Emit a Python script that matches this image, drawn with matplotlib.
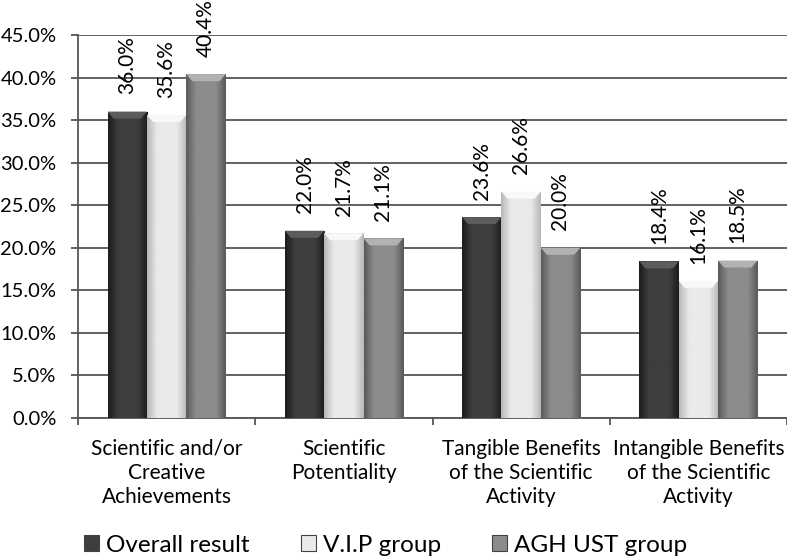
import numpy as np
import matplotlib.pyplot as plt
from matplotlib.patches import Polygon
from matplotlib.ticker import FuncFormatter
from matplotlib.colors import LinearSegmentedColormap

plt.rcParams['font.family'] = ['Lato', 'DejaVu Sans']

categories = ['Scientific and/or\nCreative\nAchievements', 'Scientific\nPotentiality',
              'Tangible Benefits\nof the Scientific\nActivity', 'Intangible Benefits\nof the Scientific\nActivity']
series = ['Overall result', 'V.I.P group', 'AGH UST group']
overall = [36.0, 22.0, 23.6, 18.4]
vip = [35.6, 21.7, 26.6, 16.1]
agh = [40.4, 21.1, 20.0, 18.5]
# (edge, centre, top bevel)
shades = [('#1c1c1c', '#3e3e3e', '#5c5c5c'),
          ('#b8b8b8', '#eaeaea', '#f8f8f8'),
          ('#5a5a5a', '#8c8c8c', '#b2b2b2')]

fig = plt.figure(figsize=(7.87, 5.6), dpi=100)
ax = fig.add_axes([78 / 787, 1 - 418 / 560, (787 - 78) / 787, (418 - 35) / 560])
ax.set_xlim(-0.5, 3.5)
ax.set_ylim(0, 45)

# bevel size in data units (~7 px)
bx = 6 / 709 * 4.0
by = 7 / 383 * 45.0

x = np.arange(len(categories))
w = 0.222
for i, (vals, sh) in enumerate(zip([overall, vip, agh], shades)):
    pos = x + (i - 1) * w
    cmap = LinearSegmentedColormap.from_list('b%d' % i, [sh[0], sh[1], sh[1], sh[1], sh[0]])
    bars = ax.bar(pos, vals, w, color=sh[1], edgecolor='none', label=series[i], zorder=3)
    for b, p, v in zip(bars, pos, vals):
        x0, x1 = p - w / 2, p + w / 2
        im = ax.imshow(np.linspace(0, 1, 64).reshape(1, -1), cmap=cmap, aspect='auto',
                       extent=[x0, x1, 0, v], zorder=3, interpolation='bicubic')
        im.set_clip_path(b)
        ax.add_patch(Polygon([[x0, v], [x1, v], [x1 - bx, v - by], [x0 + bx, v - by]],
                             closed=True, facecolor=sh[2], edgecolor='none', zorder=4))
        ax.annotate('%.1f%%' % v, (p, v), xytext=(0, 12.5), textcoords='offset points',
                    rotation=90, ha='center', va='bottom', fontsize=15, zorder=5)

ax.set_xlim(-0.5, 3.5)
ax.set_ylim(0, 45)
ax.set_yticks(np.arange(0, 46, 5))
ax.yaxis.set_major_formatter(FuncFormatter(lambda v, _: '%.1f%%' % v))
ax.yaxis.grid(True, color='#555555', linewidth=1.3, zorder=0)
ax.set_xticks(x)
ax.set_xticklabels(categories, fontsize=15, linespacing=1.25)
ax.set_xticks(np.arange(-0.5, 3.6, 1), minor=True)
ax.tick_params(axis='y', labelsize=14.5, length=5, width=1.3, color='#555555', pad=10.5)
ax.tick_params(axis='x', which='major', length=0, pad=15)
ax.tick_params(axis='x', which='minor', length=5, width=1.3, color='#555555')
for s in ['top', 'right']:
    ax.spines[s].set_visible(False)
for s in ['left', 'bottom']:
    ax.spines[s].set_color('#555555')
    ax.spines[s].set_linewidth(1.3)

leg = fig.legend(loc='center', bbox_to_anchor=(0.49, 1 - 545 / 560), ncol=3, frameon=False,
                 fontsize=17.5, handlelength=0.62, handleheight=0.62, handletextpad=0.3,
                 columnspacing=2.1, borderaxespad=0)
for h in leg.legend_handles:
    h.set_edgecolor('#444444')
    h.set_linewidth(0.8)

fig.savefig('out.png', dpi=100)
